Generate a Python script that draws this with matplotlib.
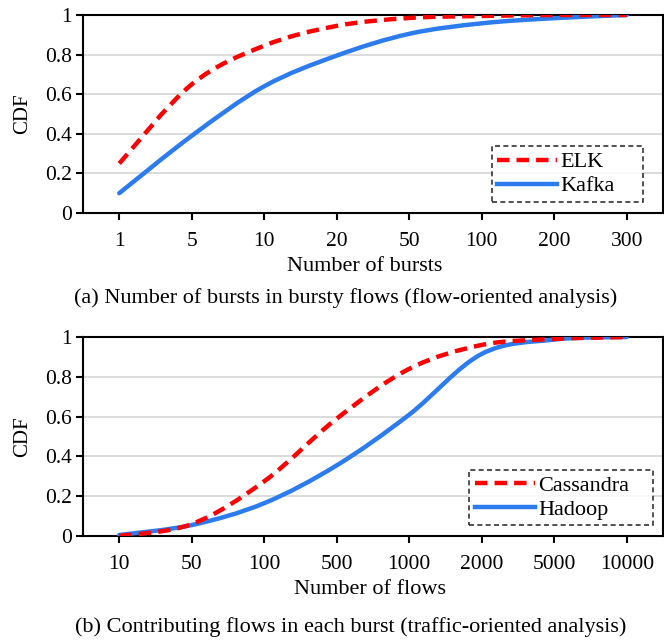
import numpy as np
import matplotlib
matplotlib.use("Agg")
import matplotlib.pyplot as plt
from matplotlib.path import Path
from matplotlib.patches import PathPatch
from matplotlib.lines import Line2D

plt.rcParams['font.family'] = ['Liberation Serif', 'DejaVu Serif']

# (a) bursts per bursty flow
bursts_labels = ['1', '5', '10', '20', '50', '100', '200', '300']
elk = [0.25, 0.65, 0.845, 0.945, 0.985, 0.995, 1.0, 1.0]
kafka = [0.10, 0.39, 0.64, 0.795, 0.905, 0.958, 0.984, 1.0]

# (b) contributing flows per burst
flows_labels = ['10', '50', '100', '500', '1000', '2000', '5000', '10000']
cassandra = [0.0, 0.06, 0.275, 0.59, 0.84, 0.96, 0.99, 1.0]
hadoop = [0.005, 0.055, 0.165, 0.355, 0.61, 0.915, 0.987, 1.0]

RED = '#FF0000'
BLUE = '#2C7CF0'
DASH = (0, (2.8, 1.6))


def smooth_path(y):
    # Excel style smoothed line (Catmull-Rom -> cubic bezier)
    x = np.arange(len(y), dtype=float)
    pts = np.column_stack([x, np.asarray(y, dtype=float)])
    ext = np.vstack([pts[0], pts, pts[-1]])
    verts = [pts[0]]
    codes = [Path.MOVETO]
    for i in range(1, len(ext) - 2):
        p0, p1, p2, p3 = ext[i - 1], ext[i], ext[i + 1], ext[i + 2]
        c1 = p1 + (p2 - p0) / 6.0
        c2 = p2 - (p3 - p1) / 6.0
        verts += [c1, c2, p2]
        codes += [Path.CURVE4] * 3
    return Path(verts, codes)


def draw_panel(ax, labels, s1, s2, names, xlabel, xl_x, caption, cap_xy,
               leg_box):
    for y in [0.2, 0.4, 0.6, 0.8]:
        ax.axhline(y, color='#D9D9D9', lw=1.3, zorder=0)
    ax.add_patch(PathPatch(smooth_path(s2), fill=False, edgecolor=BLUE,
                           lw=3.2, capstyle='round', zorder=3))
    ax.add_patch(PathPatch(smooth_path(s1), fill=False, edgecolor=RED,
                           lw=3.2, linestyle=DASH, zorder=4))
    ax.set_xlim(-0.5, len(labels) - 0.5)
    ax.set_ylim(0, 1)
    ax.set_xticks(range(len(labels)))
    ax.set_xticklabels(labels)
    ax.set_yticks([0, 0.2, 0.4, 0.6, 0.8, 1])
    ax.set_yticklabels(['0', '0.2', '0.4', '0.6', '0.8', '1'])
    ax.tick_params(axis='both', direction='out', length=5, width=1.5,
                   labelsize=15.5, pad=3)
    ax.tick_params(axis='x', pad=9)
    for sp in ax.spines.values():
        sp.set_linewidth(1.5)
    ax.set_ylabel('CDF', fontsize=15, labelpad=9)
    ax.set_xlabel(xlabel, fontsize=16, labelpad=4)
    ax.xaxis.set_label_coords(xl_x, -0.22)
    ax.xaxis.label.set_va('top')
    ax.text(cap_xy[0], cap_xy[1], caption, transform=ax.transAxes,
            ha='center', va='center', fontsize=16)
    handles = [Line2D([], [], color=RED, lw=3.2, linestyle=DASH),
               Line2D([], [], color=BLUE, lw=3.2)]
    leg = ax.legend(handles, names, loc='lower left', bbox_to_anchor=leg_box,
                    mode='expand', fontsize=16, frameon=True, fancybox=False,
                    handlelength=2.7, handletextpad=0.15, borderpad=0.25,
                    borderaxespad=0, labelspacing=0.15)
    fr = leg.get_frame()
    fr.set_edgecolor('black')
    fr.set_linestyle((0, (3, 2)))
    fr.set_linewidth(1.2)


fig = plt.figure(figsize=(6.64, 6.41), dpi=100)
ax1 = fig.add_axes([0.125, 0.6677, 0.8735, 0.3089])
ax2 = fig.add_axes([0.125, 0.1638, 0.8735, 0.3105])

draw_panel(ax1, bursts_labels, elk, kafka, ['ELK', 'Kafka'],
           'Number of bursts', 0.485,
           '(a) Number of bursts in bursty flows (flow-oriented analysis)',
           (0.453, -0.43), (0.705, 0.056, 0.261, 0.28))
draw_panel(ax2, flows_labels, cassandra, hadoop, ['Cassandra', 'Hadoop'],
           'Number of flows', 0.495,
           '(b) Contributing flows in each burst (traffic-oriented analysis)',
           (0.462, -0.457), (0.666, 0.055, 0.317, 0.28))

fig.savefig('out.png', dpi=100)
